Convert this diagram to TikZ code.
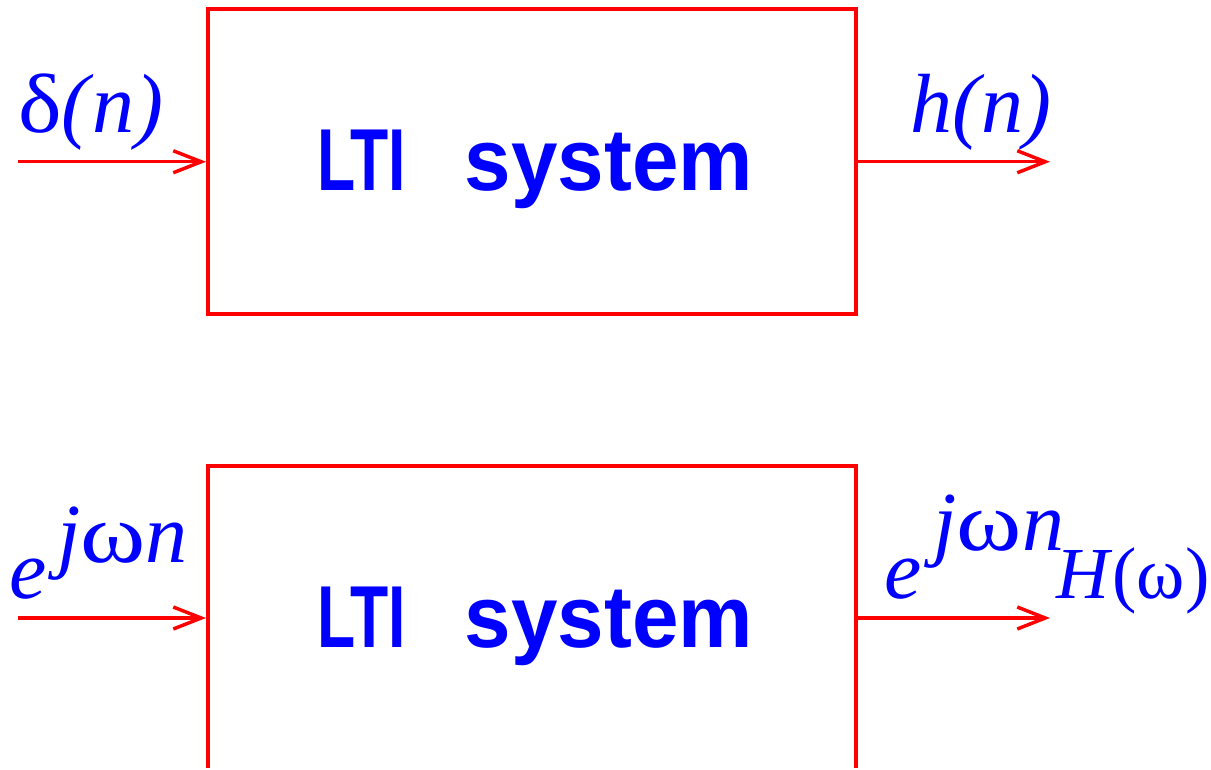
\documentclass[tikz,border=0pt]{standalone}
\usepackage{fontspec}
\setmainfont{Liberation Serif}
\setsansfont{Liberation Sans}
\usetikzlibrary{arrows.meta}
\newcommand{\wom}{\scalebox{1.18}[1]{ω}}
\begin{document}
\begin{tikzpicture}[x=0.75pt,y=-0.75pt,
  sysbox/.style={draw=red, line width=3pt, minimum width=486pt, minimum height=228.4pt, inner sep=0pt},
  sig/.style={draw=red, line width=2.6pt, -{Straight Barb[length=21pt,width=16.5pt]}},
  lbl/.style={text=blue, font=\fontsize{63}{63}\selectfont, inner sep=0pt, anchor=base west},
  systxt/.style={text=blue, font=\sffamily\bfseries\fontsize{66}{66}\selectfont, inner sep=0pt, anchor=base west}]
\useasboundingbox (0,0) rectangle (1211,769);
\clip (0,0) rectangle (1211,767.5);
% top system
\node[sysbox] (b1) at (532,161.75) {};
\node[systxt] (t1) at (317,190) {\scalebox{0.71}[1]{LTI}\hspace{44pt}\scalebox{0.95}[1]{system}};
\coordinate (in1) at (18,161.75);
\coordinate (out1) at (1050,161.75);
\draw[sig] (in1) -- (b1.west);
\draw[sig] (b1.east) -- (out1);
\node[lbl] (x1) at (18,132) {\scalebox{1.1}[1]{δ}\textit{(\kern2pt n\kern1pt)}};
\node[lbl] (y1) at (910,132) {\textit{h(\kern1pt n)}};
% bottom system
\node[sysbox] (b2) at (532,618) {};
\node[systxt] (t2) at (317,647) {\scalebox{0.71}[1]{LTI}\hspace{44pt}\scalebox{0.95}[1]{system}};
\coordinate (in2) at (18,618);
\coordinate (out2) at (1050,618);
\draw[sig] (in2) -- (b2.west);
\draw[sig] (b2.east) -- (out2);
\node[lbl] (x2) at (9,598) {\textit{e}\kern8pt\raisebox{27pt}{\textit{j}\wom\textit{n}}};
\node[lbl] (y2) at (884,598) {\textit{e}\kern9pt\raisebox{36pt}{\textit{j}\wom\textit{n}}\kern-6pt{\fontsize{55}{55}\selectfont\textit{H}(ω)}};
\end{tikzpicture}
\end{document}
